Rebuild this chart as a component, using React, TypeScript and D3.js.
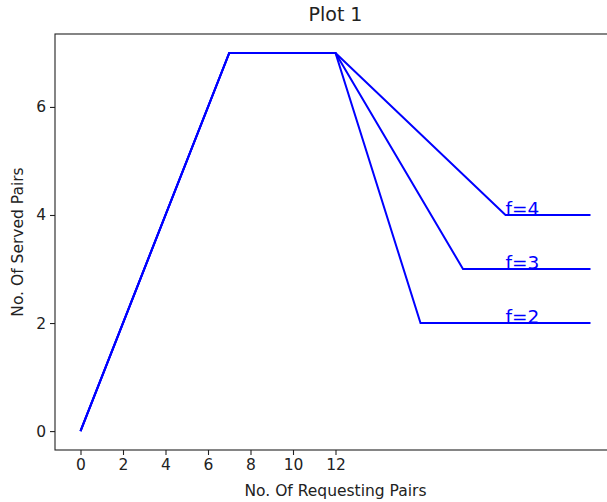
import * as React from "react"
import * as d3 from "d3"

const WIDTH = 607
const HEIGHT = 502

// shared rising part, then one falling branch per f
const rampX = [0, 7, 12]
const rampY = [0, 7, 7]
const fValues = [2, 3, 4]
const cornerX = [16, 18, 20]
const endX = 24
const labelX = 20
const xTicks = [0, 2, 4, 6, 8, 10, 12]
const yTicks = [0, 2, 4, 6]

const FONT = "DejaVu Sans, sans-serif"

export default function App() {
  const svgRef = React.useRef<SVGSVGElement>(null)

  React.useEffect(() => {
    const svg = d3.select(svgRef.current)
    svg.selectAll("*").remove()

    const left = 55
    const right = 616
    const top = 34
    const bottom = 450

    const x = d3.scaleLinear().domain([-1.2, 25.2]).range([left, right])
    const y = d3.scaleLinear().domain([-0.35, 7.35]).range([bottom, top])

    const line = d3
      .line<[number, number]>()
      .x(d => x(d[0]))
      .y(d => y(d[1]))

    const g = svg.append("g")

    fValues.forEach((f, i) => {
      const pts: [number, number][] = rampX.map((v, j) => [v, rampY[j]] as [number, number])
      pts.push([cornerX[i], f])
      pts.push([endX, f])
      g.append("path")
        .attr("d", line(pts))
        .attr("fill", "none")
        .attr("stroke", "#0000ff")
        .attr("stroke-width", 2)
        .attr("stroke-linejoin", "miter")
    })

    fValues.forEach(f => {
      g.append("text")
        .attr("x", x(labelX))
        .attr("y", y(f))
        .attr("fill", "#0000ff")
        .attr("font-family", FONT)
        .attr("font-size", 18.5)
        .text("f=" + f)
    })

    const xAxis = svg
      .append("g")
      .attr("transform", `translate(0,${bottom})`)
      .call(d3.axisBottom(x).tickValues(xTicks).tickSize(5).tickPadding(4).tickSizeOuter(0))
    const yAxis = svg
      .append("g")
      .attr("transform", `translate(${left},0)`)
      .call(d3.axisLeft(y).tickValues(yTicks).tickSize(5).tickPadding(4).tickSizeOuter(0))

    for (const a of [xAxis, yAxis]) {
      a.select(".domain").remove()
      a.attr("font-size", null).attr("font-family", null)
      a.selectAll("text")
        .style("font-family", FONT)
        .style("font-size", "15.5px")
        .attr("fill", "#222")
      a.selectAll("line").attr("stroke", "#222").attr("stroke-width", 1.1)
    }

    svg
      .append("rect")
      .attr("x", left)
      .attr("y", top)
      .attr("width", right - left)
      .attr("height", bottom - top)
      .attr("fill", "none")
      .attr("stroke", "#222")
      .attr("stroke-width", 1.1)

    svg
      .append("text")
      .attr("x", (left + right) / 2)
      .attr("y", 21)
      .attr("text-anchor", "middle")
      .attr("font-family", FONT)
      .attr("font-size", 19)
      .attr("fill", "#222")
      .text("Plot 1")

    svg
      .append("text")
      .attr("x", (left + right) / 2)
      .attr("y", 496)
      .attr("text-anchor", "middle")
      .attr("font-family", FONT)
      .attr("font-size", 15.5)
      .attr("fill", "#222")
      .text("No. Of Requesting Pairs")

    svg
      .append("text")
      .attr("transform", `translate(23,${(top + bottom) / 2}) rotate(-90)`)
      .attr("text-anchor", "middle")
      .attr("font-family", FONT)
      .attr("font-size", 15.5)
      .attr("fill", "#222")
      .text("No. Of Served Pairs")
  }, [])

  return (
    <div style={{ position: "fixed", left: 0, top: 0 }}>
      <svg ref={svgRef} width={WIDTH} height={HEIGHT} style={{ display: "block", background: "#fff" }} />
    </div>
  )
}
